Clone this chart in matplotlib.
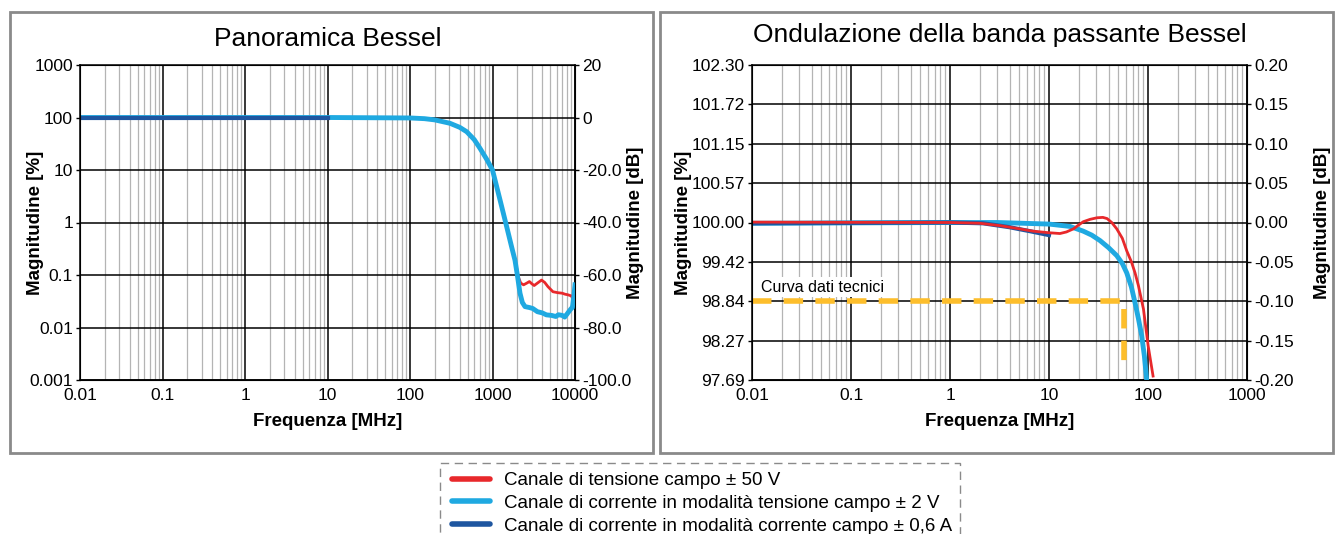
import matplotlib
matplotlib.use("Agg")
import matplotlib.pyplot as plt
from matplotlib.patches import Rectangle
from matplotlib.lines import Line2D
from matplotlib.ticker import FixedLocator, FixedFormatter, LogLocator, NullFormatter

plt.rcParams['font.family'] = ['Liberation Sans', 'DejaVu Sans']

# ---------------- data ----------------
# Left panel (overview), magnitude in %
ov_blue_f = [0.01, 10, 100, 150, 200, 305, 400, 486, 600, 705, 850, 1000, 1233, 1486, 1700,
             1874, 2000, 2154, 2300, 2477, 2800, 3080, 3500, 4000, 4500, 5200, 5850, 6300,
             7000, 7500, 8000, 8600, 9000, 9300, 9700, 10000]
ov_blue_v = [100, 100, 98, 95, 90, 77.6, 65, 53.7, 38, 25.9, 16, 10, 2.7, 0.83, 0.35,
             0.19, 0.1, 0.045, 0.03, 0.025, 0.024, 0.023, 0.02, 0.019, 0.0174, 0.017, 0.0162, 0.0175,
             0.017, 0.0158, 0.018, 0.021, 0.023, 0.024, 0.04, 0.065]
ov_red_f = [0.01, 10, 100, 150, 200, 305, 400, 486, 600, 705, 850, 1000, 1233, 1486, 1700,
            1874, 2050, 2200, 2380, 2600, 2800, 3000, 3200, 3500, 3930, 4300, 4700, 5400,
            6200, 7000, 7600, 8200, 9000, 9500, 10000]
ov_red_v = [100, 100, 98, 95, 90, 77.6, 65, 53.7, 38, 25.9, 16, 10, 2.7, 0.83, 0.36,
            0.2, 0.093, 0.07, 0.065, 0.07, 0.075, 0.068, 0.063, 0.07, 0.08, 0.072, 0.06, 0.048,
            0.046, 0.045, 0.043, 0.042, 0.04, 0.035, 0.027]
ov_dark_f = [0.01, 10]
ov_dark_v = [100, 100]

# Right panel (pass-band ripple), magnitude in dB
rp_blue_f = [0.01, 1, 3, 10, 16.3, 22.2, 27, 32.8, 40, 48.3, 55, 61, 68, 74, 80, 86.4, 92, 97]
rp_blue_v = [-0.001, 0.0, 0.0, -0.002, -0.005, -0.011, -0.016, -0.023, -0.032, -0.042, -0.052,
             -0.064, -0.082, -0.102, -0.122, -0.144, -0.17, -0.2]
rp_dark_f = [0.01, 1, 2.16, 4, 6.4, 10]
rp_dark_v = [-0.001, 0.0, -0.001, -0.006, -0.011, -0.016]
rp_red_f = [0.01, 1, 2, 3.2, 5, 6.9, 10, 12.9, 15, 17.7, 20, 22.2, 26, 30.5, 35, 38.6, 43, 48.3,
            55, 61, 68, 74, 80, 90, 100.5, 112.5]
rp_red_v = [0.0005, 0.0, -0.001, -0.004, -0.008, -0.011, -0.013, -0.014, -0.012, -0.008, -0.003,
            0.001, 0.004, 0.006, 0.0065, 0.005, 0.0, -0.008, -0.02, -0.036, -0.05, -0.064, -0.08,
            -0.11, -0.157, -0.195]
spec_f = [0.01, 57, 57]
spec_v = [-0.1, -0.1, -0.19]

ov_xticks = [0.01, 0.1, 1, 10, 100, 1000, 10000]
ov_xlabels = ['0.01', '0.1', '1', '10', '100', '1000', '10000']
ov_yticks = [0.001, 0.01, 0.1, 1, 10, 100, 1000]
ov_ylabels = ['0.001', '0.01', '0.1', '1', '10', '100', '1000']
ov_dbticks = [-100, -80, -60, -40, -20, 0, 20]
ov_dblabels = ['-100.0', '-80.0', '-60.0', '-40.0', '-20.0', '0', '20']

rp_xticks = [0.01, 0.1, 1, 10, 100, 1000]
rp_xlabels = ['0.01', '0.1', '1', '10', '100', '1000']
rp_dbticks = [-0.2, -0.15, -0.1, -0.05, 0.0, 0.05, 0.1, 0.15, 0.2]
rp_pctlabels = ['97.69', '98.27', '98.84', '99.42', '100.00', '100.57', '101.15', '101.72', '102.30']
rp_dblabels = ['-0.20', '-0.15', '-0.10', '-0.05', '0.00', '0.05', '0.10', '0.15', '0.20']

names = ['Canale di tensione campo ± 50 V',
         'Canale di corrente in modalità tensione campo ± 2 V',
         'Canale di corrente in modalità corrente campo ± 0,6 A']

RED = '#E8282B'
LBLUE = '#1FA9E1'
DBLUE = '#1E56A0'
YEL = '#FDBE2C'

W, H = 1339, 534
fig = plt.figure(figsize=(W / 100, H / 100), dpi=100)

def fx(px):
    return px / W

def fy(py):
    return 1 - py / H

# panel borders
for x0, x1 in [(10, 653), (660, 1333)]:
    fig.patches.append(Rectangle((fx(x0), fy(453)), fx(x1) - fx(x0), fy(12) - fy(453),
                                 transform=fig.transFigure, fill=False, edgecolor='#8a8a8a', lw=2))

TICKFS = 12.5
LABFS = 13.5
TITLEFS = 19
AX_W = 495.0
AX_H = 315.0

def style_log_x(ax, ticks, labels):
    ax.set_xscale('log')
    ax.xaxis.set_major_locator(FixedLocator(ticks))
    ax.xaxis.set_major_formatter(FixedFormatter(labels))
    ax.xaxis.set_minor_locator(LogLocator(base=10, subs=range(2, 10), numticks=100))
    ax.xaxis.set_minor_formatter(NullFormatter())
    ax.grid(which='minor', axis='x', color='#b4b4b4', lw=0.9)
    ax.grid(which='major', axis='x', color='black', lw=1.1)
    ax.grid(which='major', axis='y', color='black', lw=1.1)
    ax.tick_params(which='both', axis='x', length=0, labelsize=TICKFS, pad=6)
    ax.tick_params(which='major', axis='y', length=3, width=1, labelsize=TICKFS, pad=2)
    ax.tick_params(which='minor', axis='y', length=0)
    ax.set_axisbelow(True)
    for s in ax.spines.values():
        s.set_linewidth(1.1)

ax_left = {}

def place_labels(ax, ax2, left_x, right_x, xlab_y):
    ax.yaxis.set_label_coords((left_x - ax_left[ax]) / AX_W, 0.5)
    ax.yaxis.label.set_va('center')
    ax2.yaxis.set_label_coords((right_x - ax_left[ax]) / AX_W, 0.5)
    ax2.yaxis.label.set_va('center')
    ax.xaxis.set_label_coords(0.5, (380 - xlab_y) / AX_H)
    ax.xaxis.label.set_va('center')

# ---------------- left panel ----------------
axL = fig.add_axes([fx(80), fy(380), fx(575) - fx(80), fy(65) - fy(380)])
ax_left[axL] = 80
style_log_x(axL, ov_xticks, ov_xlabels)
axL.set_yscale('log')
axL.yaxis.set_major_locator(FixedLocator(ov_yticks))
axL.yaxis.set_major_formatter(FixedFormatter(ov_ylabels))
axL.yaxis.set_minor_locator(FixedLocator([]))
axL.plot(ov_red_f, ov_red_v, color=RED, lw=2, solid_capstyle='butt', zorder=3)
axL.plot(ov_blue_f, ov_blue_v, color=LBLUE, lw=3.5, zorder=4)
axL.plot(ov_dark_f, ov_dark_v, color=DBLUE, lw=3, zorder=5)
axL.set_xlim(0.01, 10000)
axL.set_ylim(0.001, 1000)
axL.set_xlabel('Frequenza [MHz]', fontsize=LABFS, fontweight='bold')
axL.set_ylabel('Magnitudine [%]', fontsize=LABFS, fontweight='bold')
axL.set_title('Panoramica Bessel', fontsize=TITLEFS, y=(380 - 39) / AX_H, va='center', pad=0)
axL2 = axL.twinx()
axL2.set_ylim(-100, 20)
axL2.yaxis.set_major_locator(FixedLocator(ov_dbticks))
axL2.yaxis.set_major_formatter(FixedFormatter(ov_dblabels))
axL2.tick_params(length=3, width=1, labelsize=TICKFS, pad=2)
axL2.set_ylabel('Magnitudine [dB]', fontsize=LABFS, fontweight='bold')
place_labels(axL, axL2, 35, 636, 421)

# ---------------- right panel ----------------
axR = fig.add_axes([fx(752), fy(380), fx(1247) - fx(752), fy(65) - fy(380)])
ax_left[axR] = 752
style_log_x(axR, rp_xticks, rp_xlabels)
axR.yaxis.set_major_locator(FixedLocator(rp_dbticks))
axR.yaxis.set_major_formatter(FixedFormatter(rp_pctlabels))
axR.plot(rp_blue_f, rp_blue_v, color=LBLUE, lw=3.5, zorder=3)
axR.plot(rp_dark_f, rp_dark_v, color=DBLUE, lw=3, zorder=4)
axR.plot(rp_red_f, rp_red_v, color=RED, lw=2, zorder=5)
axR.plot(spec_f, spec_v, color=YEL, lw=4, dashes=(3.5, 2.2), zorder=2.5)
axR.text(0.0122, -0.082, 'Curva dati tecnici', fontsize=11.5, va='center', ha='left', zorder=2.6,
         bbox=dict(facecolor='white', edgecolor='none', pad=1.5))
axR.set_xlim(0.01, 1000)
axR.set_ylim(-0.2, 0.2)
axR.set_xlabel('Frequenza [MHz]', fontsize=LABFS, fontweight='bold')
axR.set_ylabel('Magnitudine [%]', fontsize=LABFS, fontweight='bold')
axR.set_title('Ondulazione della banda passante Bessel', fontsize=TITLEFS,
              y=(380 - 35) / AX_H, va='center', pad=0)
axR2 = axR.twinx()
axR2.set_ylim(-0.2, 0.2)
axR2.yaxis.set_major_locator(FixedLocator(rp_dbticks))
axR2.yaxis.set_major_formatter(FixedFormatter(rp_dblabels))
axR2.tick_params(length=3, width=1, labelsize=TICKFS, pad=2)
axR2.set_ylabel('Magnitudine [dB]', fontsize=LABFS, fontweight='bold')
place_labels(axR, axR2, 683, 1322, 421)

# ---------------- legend ----------------
fig.patches.append(Rectangle((fx(440), fy(545)), fx(960) - fx(440), fy(463) - fy(545),
                             transform=fig.transFigure, fill=False, edgecolor='#8a8a8a',
                             lw=1, linestyle=(0, (6, 4))))
handles = [Line2D([], [], color=RED, lw=4, solid_capstyle='round'),
           Line2D([], [], color=LBLUE, lw=4, solid_capstyle='round'),
           Line2D([], [], color=DBLUE, lw=4, solid_capstyle='round')]
fig.legend(handles, names, loc='upper left', bbox_to_anchor=(fx(452), fy(472)), frameon=False,
           fontsize=13.5, handlelength=2.0, handletextpad=0.75, labelspacing=0.3,
           borderpad=0, borderaxespad=0)

fig.savefig('out.png', dpi=100)
